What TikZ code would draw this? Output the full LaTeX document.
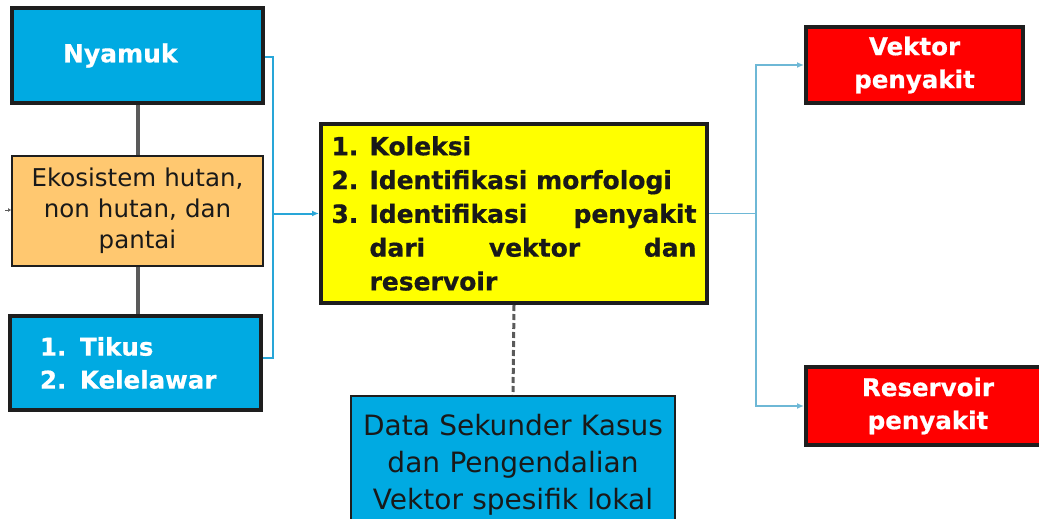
\documentclass[tikz,border=0pt]{standalone}
\usepackage{fontspec}
\setmainfont{DejaVu Sans}[BoldFeatures={FakeBold=0.6}]
\usetikzlibrary{arrows.meta}
\definecolor{cyanbox}{RGB}{0,170,226}
\definecolor{orangebox}{RGB}{255,200,112}
\definecolor{yellowbox}{RGB}{255,255,0}
\definecolor{redbox}{RGB}{255,0,0}
\definecolor{edgedark}{RGB}{30,30,30}
\definecolor{linkblue}{RGB}{40,166,216}
\definecolor{linklight}{RGB}{110,184,214}
\definecolor{graylink}{RGB}{90,90,90}
\tikzset{
  thickbox/.style={draw=edgedark, line width=4pt, inner sep=0pt},
  thinbox/.style={draw=edgedark, line width=1.8pt, inner sep=0pt},
  whitebold/.style={text=white, font=\bfseries\fontsize{24.5}{33}\selectfont},
  graybar/.style={draw=graylink, line width=4pt},
  bluelink/.style={draw=linkblue, line width=2pt},
  lightlink/.style={draw=linklight, line width=1.6pt},
  tip/.style={-{Latex[length=7pt,width=6pt]}},
}
\begin{document}
\begin{tikzpicture}[x=1pt,y=-1pt]
\useasboundingbox (0,0) rectangle (1039,519);
\clip (0,0) rectangle (1039,519);

% left column
\node[thickbox, fill=cyanbox, whitebold, minimum width=251pt, minimum height=95pt,
      text width=235pt, align=left] (nyamuk) at (137.5,55.5)
      {\hspace*{43pt}\fontsize{25}{30}\selectfont Nyamuk};
\node[thinbox, fill=orangebox, minimum width=251pt, minimum height=110pt,
      text width=247pt, align=center, text=black!90,
      font=\fontsize{24.5}{31}\selectfont] (eko) at (137.5,211)
      {Ekosistem hutan,\\non hutan, dan\\pantai};
\node[thickbox, fill=cyanbox, whitebold, minimum width=251pt, minimum height=94pt,
      text width=235pt, align=left] (tikus) at (135.5,363)
      {\hspace*{22pt}\makebox[40pt][l]{1.}Tikus\\\hspace*{22pt}\makebox[40pt][l]{2.}Kelelawar};

\draw[graybar] (nyamuk.south) -- (eko.north);
\draw[graybar] (eko.south) -- (eko.south |- tikus.north);
\coordinate (stub) at (5,210);
\draw[draw=graylink, line width=1pt, -{Latex[length=3pt,width=4pt]}] (stub) -- (eko.west |- stub);

% centre box
\node[thickbox, fill=yellowbox, minimum width=386pt, minimum height=179pt,
      text width=365pt, align=justify, text=black!90,
      font=\bfseries\fontsize{25}{33.8}\selectfont] (koleksi) at (514,213.5)
      {\hangindent=38pt\hangafter=0\noindent\hspace*{-38pt}\makebox[38pt][l]{1.}Koleksi\par
       \hangindent=38pt\hangafter=0\noindent\hspace*{-38pt}\makebox[38pt][l]{2.}Identifikasi morfologi\par
       \hangindent=38pt\hangafter=0\noindent\hspace*{-38pt}\makebox[38pt][l]{3.}Identifikasi penyakit\linebreak dari vektor dan\linebreak reservoir\par};

% bracket into centre box
\coordinate (bt) at (273,57);
\coordinate (bb) at (273,358);
\draw[bluelink] (nyamuk.east |- bt) -- (bt) -- (bb) -- (tikus.east |- bb);
\draw[bluelink, tip] (bt |- koleksi.west) -- (koleksi.west);

% right boxes
\node[thickbox, fill=redbox, whitebold, minimum width=217pt, minimum height=76pt,
      align=center] (vektor) at (914.5,65) {Vektor\\penyakit};
\node[thickbox, fill=redbox, whitebold, minimum width=244pt, minimum height=78pt,
      align=center] (reservoir) at (928,406) {Reservoir\\penyakit};

\coordinate (rj) at (756,213.5);
\draw[lightlink] (koleksi.east) -- (rj);
\draw[lightlink, tip] (rj) |- (vektor.west);
\draw[lightlink, tip] (rj) |- (reservoir.west);

% bottom box
\node[thinbox, fill=cyanbox, minimum width=324pt, minimum height=140pt,
      text width=320pt, align=center, text=black!90,
      font=\fontsize{28}{37}\selectfont, anchor=north] (data) at (513,395)
      {\rule{0pt}{10pt}\\[-28pt]Data Sekunder Kasus\\dan Pengendalian\\Vektor spesifik lokal};
\draw[draw=graylink, line width=3pt, dash pattern=on 6pt off 3pt] (koleksi.south) -- (data.north);
\end{tikzpicture}
\end{document}
